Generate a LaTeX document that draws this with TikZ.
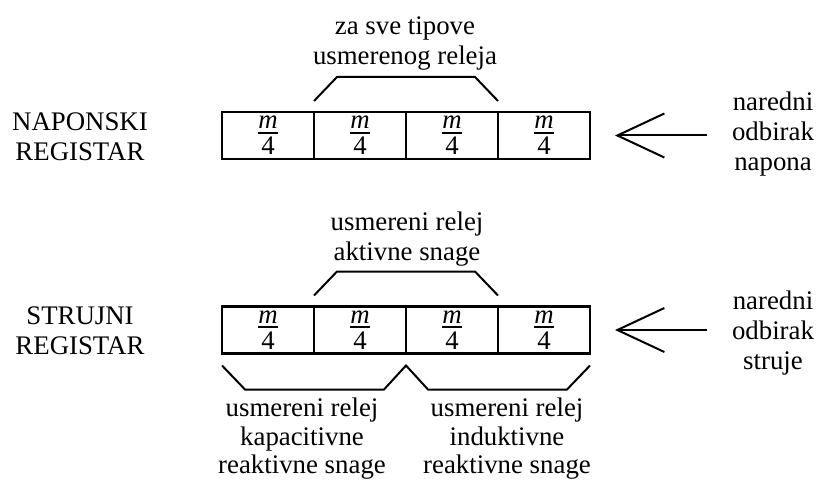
\documentclass[tikz,border=0pt]{standalone}
\usepackage{fontspec}
\setmainfont{Liberation Serif}
\usetikzlibrary{calc, arrows.meta}

\newcommand\cetvrtina{$\vcenter{\offinterlineskip\halign{\hfil##\hfil\cr\textit{m}\cr\noalign{\kern0.08cm}\rule{0.6cm}{0.06cm}\cr\noalign{\kern0.1cm}4\cr}}$}

\begin{document}
\begin{tikzpicture}
	[
	   x = 0.03cm, y = -0.03cm,
	   every node/.style = {font = \fontsize{22.9pt}{25.6pt}\selectfont, inner sep = 0pt, align = center},
	   cell/.style = {draw, line width = 0.08cm, minimum width = 2.76cm, minimum height = 1.41cm, outer sep = 0pt},
	   opis/.style = {font = \fontsize{22.9pt}{24.3pt}\selectfont},
	   bracket/.style = {line width = 0.06cm},
	   ulaz/.style = {line width = 0.06cm, -{Straight Barb[length = 1.41cm, width = 1.32cm]}},
	]
	\useasboundingbox (0,0) rectangle (816,480);
	\foreach \i in {1,...,4}
	{
		\node[cell] (n\i) at (176+92*\i, 135.5) {\cetvrtina};
		\node[cell] (s\i) at (176+92*\i, 330) {\cetvrtina};
	}
	\node (nl) at (80, 137) {NAPONSKI\\REGISTAR};
	\node (sl) at (80, 331) {STRUJNI\\REGISTAR};
	\node (nd) at (773, 134) {naredni\\odbirak\\napona};
	\node (sd) at (773, 333) {naredni\\odbirak\\struje};
	\node (nt) at (405, 44) {za sve tipove\\usmerenog releja};
	\node (st) at (407, 239) {usmereni relej\\aktivne snage};
	\node[opis] (kap) at (302, 439) {usmereni relej\\kapacitivne\\reaktivne snage};
	\node[opis] (ind) at (507, 439) {usmereni relej\\induktivne\\reaktivne snage};
	\draw[bracket] ($(n2.north west)+(0,-11)$) -- ++(23,-24) -- ($(n3.north east)+(-23,-35)$) -- ($(n3.north east)+(0,-11)$);
	\draw[bracket] ($(s2.north west)+(0,-11)$) -- ++(23,-24) -- ($(s3.north east)+(-23,-35)$) -- ($(s3.north east)+(0,-11)$);
	\draw[bracket] ($(s1.south west)+(0,12)$) -- ++(23,24) -- ($(s2.south east)+(-22,36)$) -- ($(s2.south east)+(0,12)$)
		-- ++(22,24) -- ($(s4.south east)+(-23,36)$) -- ($(s4.south east)+(0,12)$);
	\coordinate (nu) at ($(n4.east)+(117,0)$);
	\coordinate (su) at ($(s4.east)+(117,0)$);
	\draw[ulaz] (nu) -- ($(n4.east)+(25,0)$);
	\draw[ulaz] (su) -- ($(s4.east)+(25,0)$);
\end{tikzpicture}
\end{document}
